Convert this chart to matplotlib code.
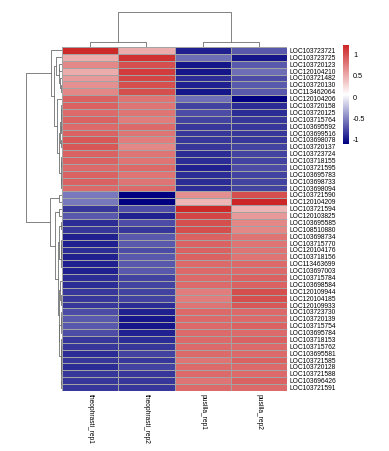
import numpy as np
import matplotlib
matplotlib.use('Agg')
import matplotlib.pyplot as plt
from matplotlib.colors import LinearSegmentedColormap

plt.rcParams['font.family'] = ['Liberation Sans', 'DejaVu Sans']

# row names, top to bottom as in the heatmap
genes = ['LOC103723721', 'LOC103723725', 'LOC103720123', 'LOC120104210',
         'LOC103721482', 'LOC103720130', 'LOC113462064', 'LOC120104206',
         'LOC103720158', 'LOC103720125', 'LOC103715764', 'LOC103695592',
         'LOC103699516', 'LOC103698078', 'LOC103720137', 'LOC103723724',
         'LOC103718155', 'LOC103721595', 'LOC103695783', 'LOC103698733',
         'LOC103698094', 'LOC103721590', 'LOC120104209', 'LOC103721594',
         'LOC120103825', 'LOC103695585', 'LOC108510880', 'LOC103698734',
         'LOC103715770', 'LOC120104176', 'LOC103718156', 'LOC113463699',
         'LOC103697003', 'LOC103715784', 'LOC103698584', 'LOC120109944',
         'LOC120104185', 'LOC120109933', 'LOC103723730', 'LOC103720139',
         'LOC103715754', 'LOC103695784', 'LOC103718153', 'LOC103715762',
         'LOC103695581', 'LOC103721585', 'LOC103720128', 'LOC103721588',
         'LOC103696426', 'LOC103721591']

samples = ['theophrasti_rep1', 'theophrasti_rep2', 'pusilla_rep1', 'pusilla_rep2']

# row-scaled expression (z-scores)
theophrasti_rep1 = [1.20, 0.50, 0.70, 0.50, 0.60, 0.65, 0.70, 0.90, 0.90, 0.85,
                    0.90, 0.85, 0.90, 0.95, 0.95, 0.90, 0.90, 0.85, 0.90, 0.90,
                    0.85, -0.55, -0.55, -0.85, -0.70, -0.90, -0.85, -0.95, -0.95, -0.90,
                    -0.95, -0.95, -0.95, -0.90, -0.90, -0.85, -0.85, -0.85, -0.75, -0.70,
                    -0.70, -0.75, -0.85, -0.85, -0.90, -0.85, -0.90, -0.85, -0.85, -0.85]
theophrasti_rep2 = [0.50, 1.15, 1.00, 1.10, 1.05, 1.00, 1.00, 0.80, 0.80, 0.80,
                    0.75, 0.85, 0.80, 0.75, 0.70, 0.80, 0.80, 0.85, 0.80, 0.80,
                    0.85, -1.10, -1.10, -0.75, -0.95, -0.75, -0.85, -0.70, -0.70, -0.75,
                    -0.70, -0.70, -0.70, -0.80, -0.80, -0.80, -0.80, -0.90, -0.95, -1.00,
                    -1.00, -0.95, -0.90, -0.85, -0.80, -0.85, -0.80, -0.85, -0.85, -0.85]
pusilla_rep1 = [-0.95, -0.60, -1.00, -1.00, -0.90, -0.95, -1.00, -0.60, -0.80, -0.75,
                -0.80, -0.85, -0.85, -0.85, -0.85, -0.90, -0.90, -0.95, -0.90, -0.90,
                -0.90, 0.65, 0.45, 1.20, 1.05, 1.00, 1.00, 0.90, 0.90, 0.90,
                0.90, 0.85, 0.85, 0.85, 0.85, 0.75, 0.75, 0.80, 0.85, 0.85,
                0.85, 0.85, 0.85, 0.85, 0.85, 0.80, 0.85, 0.85, 0.80, 0.85]
pusilla_rep2 = [-0.70, -1.00, -0.70, -0.60, -0.75, -0.70, -0.70, -1.10, -0.90, -0.90,
                -0.85, -0.85, -0.85, -0.85, -0.80, -0.80, -0.80, -0.75, -0.80, -0.80,
                -0.80, 1.00, 1.22, 0.45, 0.60, 0.70, 0.70, 0.80, 0.80, 0.80,
                0.80, 0.85, 0.85, 0.90, 0.90, 1.00, 1.00, 0.95, 0.85, 0.85,
                0.90, 0.85, 0.90, 0.85, 0.85, 0.90, 0.85, 0.85, 0.90, 0.85]

mat = np.column_stack([theophrasti_rep1, theophrasti_rep2, pusilla_rep1, pusilla_rep2])
n_rows, n_cols = mat.shape


def neighbour_linkage(X):
    # complete linkage, but only neighbouring clusters are merged so the
    # leaf order of the picture is kept
    clusters = [([i], i + 0.5, 0.0) for i in range(len(X))]
    links = []
    while len(clusters) > 1:
        best = None
        for k in range(len(clusters) - 1):
            a = X[clusters[k][0]]
            b = X[clusters[k + 1][0]]
            d = np.sqrt(((a[:, None, :] - b[None, :, :]) ** 2).sum(-1)).max()
            if best is None or d < best[0]:
                best = (d, k)
        d, k = best
        (ma, pa, ha), (mb, pb, hb) = clusters[k], clusters[k + 1]
        d = max(d, ha, hb)
        links.append((pa, ha, pb, hb, d))
        clusters[k:k + 2] = [(ma + mb, (pa + pb) / 2, d)]
    return links


row_links = neighbour_linkage(mat)
col_links = neighbour_linkage(mat.T)

cmap = LinearSegmentedColormap.from_list('nwf', ['navy', 'white', '#CD2626'])
vmin, vmax = -1.1, 1.22

W, H = 389, 451
fig = plt.figure(figsize=(W / 100, H / 100), dpi=100)
fig.patch.set_facecolor('white')

hm_left, hm_right, hm_top, hm_bot = 62, 287, 47, 391
ax = fig.add_axes([hm_left / W, 1 - hm_bot / H, (hm_right - hm_left) / W, (hm_bot - hm_top) / H])
mesh = ax.pcolormesh(mat, cmap=cmap, vmin=vmin, vmax=vmax,
                     edgecolors='#a3a3a3', linewidth=0.4)
ax.set_xlim(0, n_cols)
ax.set_ylim(n_rows, 0)
for s in ax.spines.values():
    s.set_visible(False)
ax.yaxis.tick_right()
ax.set_yticks(np.arange(n_rows) + 0.5, genes, fontsize=4.8)
ax.set_xticks(np.arange(n_cols) + 0.5, samples, fontsize=4.8, rotation=-90)
ax.tick_params(length=0, pad=2)

# row dendrogram
dl = 26
axr = fig.add_axes([dl / W, 1 - hm_bot / H, (hm_left - dl) / W, (hm_bot - hm_top) / H])
for pa, ha, pb, hb, d in row_links:
    axr.plot([ha, d, d, hb], [pa, pa, pb, pb], color='#6e6e6e', lw=0.6)
axr.set_xlim(max(l[4] for l in row_links), 0)
axr.set_ylim(n_rows, 0)
axr.axis('off')

# column dendrogram
dt = 12
axc = fig.add_axes([hm_left / W, 1 - hm_top / H, (hm_right - hm_left) / W, (hm_top - dt) / H])
for pa, ha, pb, hb, d in col_links:
    axc.plot([pa, pa, pb, pb], [ha, d, d, hb], color='#6e6e6e', lw=0.6)
axc.set_xlim(0, n_cols)
axc.set_ylim(0, max(l[4] for l in col_links))
axc.axis('off')

# colour legend
cax = fig.add_axes([343 / W, 1 - 144 / H, 6 / W, 99 / H])
cb = fig.colorbar(mesh, cax=cax)
cb.outline.set_visible(False)
cb.set_ticks([-1, -0.5, 0, 0.5, 1])
cb.set_ticklabels(['-1', '-0.5', '0', '0.5', '1'])
cax.tick_params(length=0, labelsize=5.2, pad=3)

fig.savefig('out.png', dpi=100)
